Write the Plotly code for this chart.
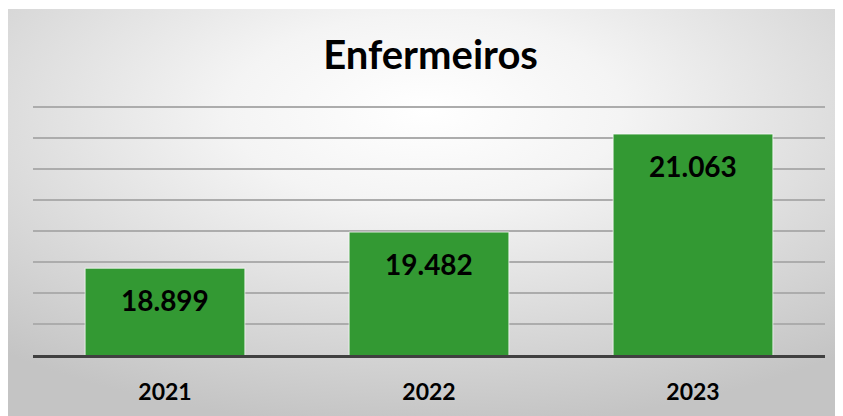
import base64
import plotly.graph_objects as go

years = ["2021", "2022", "2023"]
values = [18899, 19482, 21063]
title_text = "Enfermeiros"
y_min, y_max, y_step = 17500, 21500, 500

OFF = 8  # page body margin
W, H = 843 - OFF, 416 - OFF
ML, MR, MT, MB = 33 - OFF, 18, 105 - OFF, 61
pw = W - ML - MR
ph = H - MT - MB
y_top = y_min + (y_max - y_min) * ph / 248.0  # extend so top gridline is not dropped at edge

svg = (
    '<svg xmlns="http://www.w3.org/2000/svg" width="100" height="100" viewBox="0 0 100 100" preserveAspectRatio="none">'
    '<defs><radialGradient id="g" cx="0.5" cy="0.25" r="0.78" fx="0.5" fy="0.25">'
    '<stop offset="0" stop-color="#ffffff"/>'
    '<stop offset="0.3" stop-color="#f4f4f4"/>'
    '<stop offset="1" stop-color="#c4c4c4"/>'
    '</radialGradient></defs>'
    '<rect x="0" y="0" width="100" height="100" fill="url(#g)"/></svg>'
)
src = "data:image/svg+xml;base64," + base64.b64encode(svg.encode()).decode()

px0, py0, px1, py1 = 0, 1, W, H
img_x = (px0 - ML) / pw
img_y = (H - MB - py0) / ph
img_sx = (px1 - px0) / pw
img_sy = (py1 - py0) / ph

fig = go.Figure()
fig.add_trace(go.Bar(
    x=years, y=values, width=0.605,
    marker=dict(color="#339933", line=dict(color="rgba(255,255,255,0.7)", width=1)),
    hoverinfo="skip",
))

annotations = []
for i, v in enumerate(values):
    annotations.append(dict(
        x=i, y=v, xref="x", yref="y", yanchor="middle", yshift=-32,
        text=f"{v:,}".replace(",", "."), showarrow=False,
        font=dict(family="Lato", size=28, color="#000000", weight="bold"),
    ))

fig.update_layout(
    width=W, height=H,
    margin=dict(l=ML, r=MR, t=MT, b=MB, pad=0, autoexpand=False),
    paper_bgcolor="#ffffff",
    plot_bgcolor="rgba(0,0,0,0)",
    showlegend=False,
    title=dict(text=title_text, x=0.502, xanchor="center", xref="paper",
               y=1 - (55 - OFF) / H, yanchor="middle", yref="container",
               font=dict(family="Lato", size=40, color="#000000", weight="bold")),
    images=[dict(source=src, xref="paper", yref="paper", x=img_x, y=img_y,
                 sizex=img_sx, sizey=img_sy, sizing="stretch", layer="below",
                 xanchor="left", yanchor="top")],
    annotations=annotations,
    xaxis=dict(type="category", range=[-0.5, 2.5], showgrid=False, showline=True,
               linecolor="#404040", linewidth=3,
               ticks="outside", ticklen=14, tickcolor="rgba(0,0,0,0)", automargin=False,
               tickfont=dict(family="Lato", size=23, color="#000000", weight="bold")),
    yaxis=dict(range=[y_min, y_top], dtick=y_step, tick0=y_min, showticklabels=False,
               showgrid=True, gridcolor="#acacac", gridwidth=2, zeroline=False,
               showline=False, ticks="", automargin=False),
    bargap=0.4,
)

fig.write_html("out.html")
